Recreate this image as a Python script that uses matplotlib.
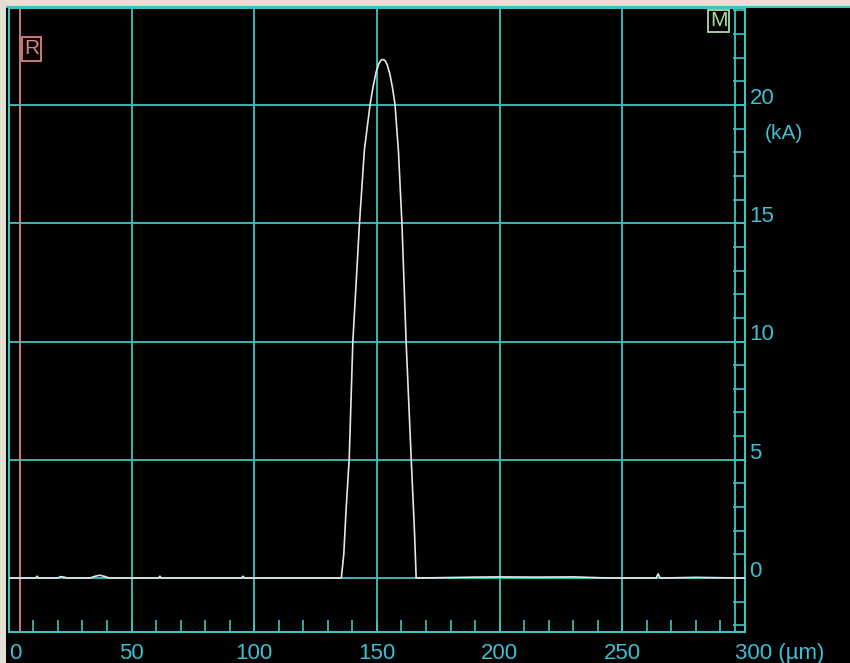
import matplotlib
matplotlib.use("Agg")
import matplotlib.pyplot as plt
from matplotlib.patches import Rectangle
from matplotlib.ticker import MultipleLocator

TEAL = "#3fc2c4"
LABEL = "#3cbfd0"
TRACE = "#e6e6e6"

# measured pulse, position in um, current in kA
pos_um = [0, 4, 11, 11.6, 12, 20, 21, 22, 24, 33, 35, 37, 39, 41, 61, 61.6, 62,
          95, 95.4, 96, 135.5, 136.5, 137.5, 138.7, 140.2, 142.9, 144.9,
          147.2, 148.5, 149.7, 150.8, 151.7, 152.5, 153.3, 154.2, 155.3,
          156.4, 157.4, 158.8, 160.2, 161.9, 164.0, 165.3, 166.0,
          190, 200, 215, 230, 245, 263.8, 264.6, 265.4, 280, 300]
current_ka = [0, 0, 0, 0.08, 0, 0, 0.06, 0.05, 0, 0, 0.07, 0.12, 0.07, 0, 0,
              0.08, 0, 0, 0.08, 0, 0.0, 1.0, 3.0, 5.0, 10.0, 15.0, 18.1,
              20.0, 20.8, 21.4, 21.75, 21.9, 21.92, 21.88, 21.7, 21.3,
              20.7, 20.0, 18.0, 15.0, 10.0, 5.0, 2.0, 0.0,
              0.04, 0.05, 0.04, 0.05, 0, 0, 0.18, 0, 0.03, 0]

x_ticks = [0, 50, 100, 150, 200, 250, 300]
x_labels = ["0", "50", "100", "150", "200", "250", "300 (\u00b5m)"]
y_ticks = [0, 5, 10, 15, 20]
y_labels = ["0", "5", "10", "15", "20"]
cursor_r = 4.6

W, H = 850, 663
fig = plt.figure(figsize=(W / 100, H / 100), dpi=100, facecolor="black")
plt.rcParams["font.family"] = ["Liberation Sans", "DejaVu Sans"]

# window frame at top and left
fig.patches.append(Rectangle((0, 1 - 6 / H), 1, 6 / H, transform=fig.transFigure,
                             facecolor="#e2dfd4", edgecolor="none"))
fig.patches.append(Rectangle((0, 0), 6 / W, 1, transform=fig.transFigure,
                             facecolor="#e2dfd4", edgecolor="none"))
fig.patches.append(Rectangle((6 / W, 1 - 8 / H), 1, 2 / H, transform=fig.transFigure,
                             facecolor=TEAL, edgecolor="none"))

left, right, top, bottom = 8.8, 745, 8, 632
ax = fig.add_axes([left / W, 1 - bottom / H, (right - left) / W, (bottom - top) / H])
ax.set_facecolor("black")
ax.set_xlim(0, 300)
ax.set_ylim(-2.28, 24.1)

for s in ax.spines.values():
    s.set_color(TEAL)
    s.set_linewidth(1.5)

# grid
for x in x_ticks[1:-1]:
    ax.axvline(x, color=TEAL, lw=1.3, zorder=1)
for y in y_ticks:
    ax.axhline(y, color=TEAL, lw=1.3, zorder=1)
# inner line of the right scale
ax.axvline(296, color=TEAL, lw=1.3, zorder=1)

ax.set_xticks(x_ticks)
ax.set_xticklabels([])
ax.xaxis.set_minor_locator(MultipleLocator(10))
ax.tick_params(axis="x", which="both", direction="in", length=9, width=1.2,
               color=TEAL, bottom=True, top=False)
ax.yaxis.tick_right()
ax.set_yticks(y_ticks)
ax.set_yticklabels([])
ax.yaxis.set_minor_locator(MultipleLocator(1))
ax.tick_params(axis="y", which="both", direction="in", length=9, width=1.2,
               color=TEAL, right=True, left=False)

for x, lab in zip(x_ticks, x_labels):
    if x == 0:
        ax.text(0, -0.018, lab, transform=ax.get_xaxis_transform(), ha="left",
                va="top", color=LABEL, fontsize=16)
    elif x == 300:
        ax.text(x - 4, -0.018, lab, transform=ax.get_xaxis_transform(), ha="left",
                va="top", color=LABEL, fontsize=16)
    else:
        ax.text(x, -0.018, lab, transform=ax.get_xaxis_transform(), ha="center",
                va="top", color=LABEL, fontsize=16)
for y, lab in zip(y_ticks, y_labels):
    ax.text(1.006, y + 0.05, lab, transform=ax.get_yaxis_transform(), ha="left",
            va="baseline", color=LABEL, fontsize=16, clip_on=False)
ax.text(1.027, 19.2, "(kA)", transform=ax.get_yaxis_transform(), ha="left",
        va="top", color=LABEL, fontsize=15, clip_on=False)

# cursor markers
ax.axvline(cursor_r, color="#e08080", lw=1.3, zorder=2)
fig.text(24 / W, 1 - 49 / H, "R", color="#e08080", fontsize=15, ha="left", va="center",
         bbox=dict(boxstyle="square,pad=0.1", fc="black", ec="#e08080", lw=1.3))
fig.text(710 / W, 1 - 21 / H, "M", color="#a8dca0", fontsize=15, ha="left", va="center",
         bbox=dict(boxstyle="square,pad=0.08", fc="black", ec="#a8dca0", lw=1.3))

ax.plot(pos_um, current_ka, color=TRACE, lw=1.2, zorder=3)

fig.savefig("out.png", dpi=100, facecolor="black")
